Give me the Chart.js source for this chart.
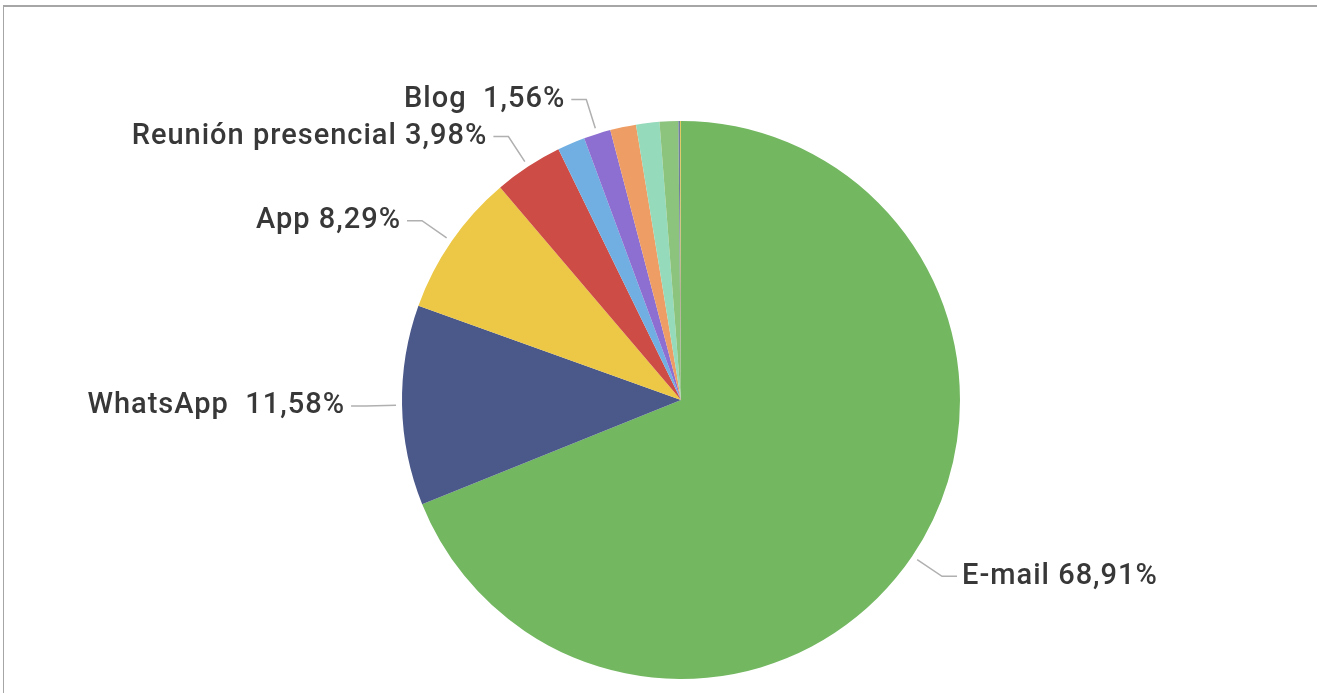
<!DOCTYPE html>
<html>
<head>
<meta charset="utf-8">
<script src="https://cdn.jsdelivr.net/npm/chart.js@4"></script>
<style>
  html, body { margin: 0; padding: 0; background: #ffffff; }
  #wrap { position: relative; width: 1317px; height: 693px; overflow: hidden; }
  #frame { position: absolute; left: 3px; top: 5px; width: 1400px; height: 800px;
           border-top: 2px solid #a6a6a6; border-left: 1px solid #a6a6a6; }
  canvas { position: absolute; left: 0; top: 0; }
</style>
</head>
<body>
<div id="wrap">
  <div id="frame"></div>
  <canvas id="c" width="1317" height="693"></canvas>
</div>
<script>
// Data (percentages)
const categories = ["E-mail", "WhatsApp ", "App", "Reunión presencial", "Canal 5", "Blog ", "Canal 7", "Canal 8", "Canal 9", "Canal 10", "Canal 11"];
const values = [68.91, 11.58, 8.29, 3.98, 1.60, 1.56, 1.50, 1.35, 1.08, 0.10, 0.05];
const labelled = ["E-mail", "WhatsApp ", "App", "Reunión presencial", "Blog "];
const colors = ["#73b761", "#4a588a", "#ecc846", "#cd4c46", "#71afe2", "#8d6fd1", "#ee9e64", "#95dabb", "#8cc47e", "#6f7e9e", "#e3c44a"];

const total = values.reduce((a, b) => a + b, 0);
function fmtPct(v) { return (v / total * 100).toFixed(2).replace('.', ',') + '%'; }

const labelPlugin = {
  id: 'leaderLabels',
  afterDatasetsDraw(chart) {
    const ctx = chart.ctx;
    const meta = chart.getDatasetMeta(0);
    ctx.save();
    ctx.font = '500 29px Roboto';
    try { ctx.letterSpacing = '1px'; } catch (e) {}
    ctx.textBaseline = 'middle';
    meta.data.forEach((arc, i) => {
      const name = categories[i];
      if (!labelled.includes(name)) return;
      const p = arc.getProps(['x', 'y', 'startAngle', 'endAngle', 'outerRadius'], true);
      const mid = (p.startAngle + p.endAngle) / 2;
      const cos = Math.cos(mid), sin = Math.sin(mid);
      const r0 = p.outerRadius + 6, r1 = p.outerRadius + 36;
      const x0 = p.x + cos * r0, y0 = p.y + sin * r0;
      const x1 = p.x + cos * r1, y1 = p.y + sin * r1;
      const right = cos >= 0;
      const x2 = x1 + (right ? 15 : -15);
      ctx.strokeStyle = '#b0b0b0';
      ctx.lineWidth = 1.5;
      ctx.beginPath();
      ctx.moveTo(x0, y0);
      ctx.lineTo(x1, y1);
      ctx.lineTo(x2, y1);
      ctx.stroke();
      ctx.fillStyle = '#383838';
      ctx.textAlign = right ? 'left' : 'right';
      ctx.fillText(name + ' ' + fmtPct(values[i]), x2 + (right ? 5 : -6), y1);
    });
    ctx.restore();
  }
};

new Chart(document.getElementById('c'), {
  type: 'pie',
  data: {
    labels: categories,
    datasets: [{
      data: values,
      backgroundColor: colors,
      borderWidth: 0
    }]
  },
  options: {
    responsive: false,
    animation: false,
    layout: { padding: { top: 121, bottom: 14, left: 402, right: 357 } },
    plugins: {
      legend: { display: false },
      tooltip: { enabled: false }
    }
  },
  plugins: [labelPlugin]
});
</script>
</body>
</html>
